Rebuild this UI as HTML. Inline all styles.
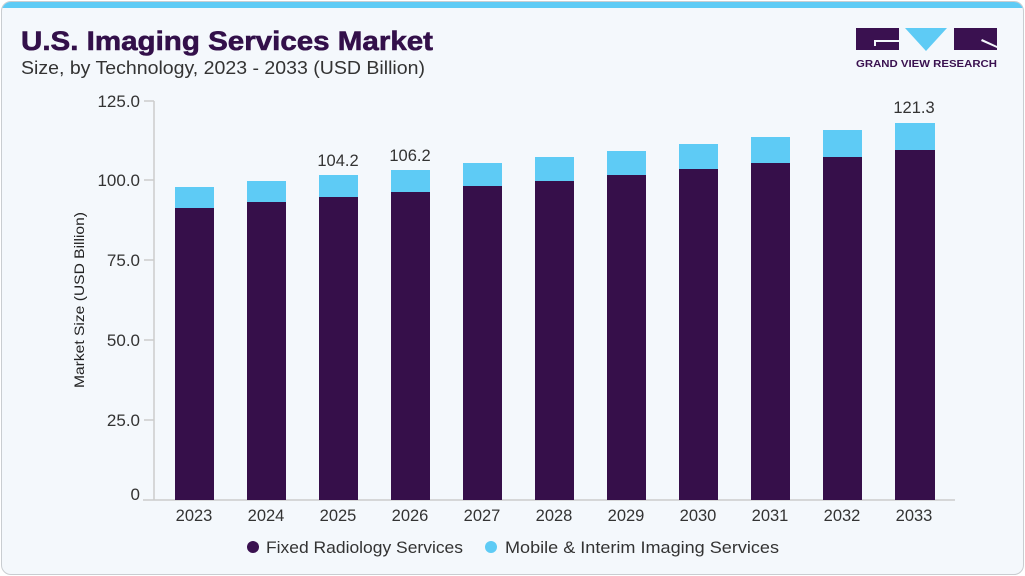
<!DOCTYPE html>
<html><head><meta charset="utf-8"><style>
html,body{margin:0;padding:0;background:#fff;}
body{width:1025px;height:576px;overflow:hidden;position:relative;font-family:"Liberation Sans",Arial,sans-serif;}
.card{position:absolute;left:1px;top:1px;width:1021px;height:572px;border:1px solid #c9cdd1;border-radius:10px;background:#f4f8fc;overflow:hidden;}
.bar{position:absolute;left:0;top:0;width:100%;height:6px;background:#5ecbf5;}
</style></head><body>
<div class="card"><div class="bar"></div></div>
<svg width="1025" height="576" style="position:absolute;left:0;top:0" xmlns="http://www.w3.org/2000/svg" font-family="Liberation Sans, Arial, sans-serif">
<text x="21" y="50" font-size="27" font-weight="bold" fill="#33104a" stroke="#33104a" stroke-width="0.6" textLength="412" lengthAdjust="spacingAndGlyphs">U.S. Imaging Services Market</text>
<text x="21" y="74" font-size="18" fill="#333" textLength="404" lengthAdjust="spacingAndGlyphs">Size, by Technology, 2023 - 2033 (USD Billion)</text>
<!-- logo -->
<rect x="856" y="28" width="43" height="22" fill="#3a1150"/>
<rect x="874" y="40" width="25" height="2" fill="#f4f8fc"/>
<rect x="874" y="40" width="2" height="6" fill="#f4f8fc"/>
<polygon points="905,28 947,28 926,51" fill="#5ecbf5"/>
<rect x="954" y="28" width="43" height="22" fill="#3a1150"/>
<polygon points="982,39 997,46 997,48 981,41" fill="#f4f8fc"/>
<text x="856" y="67" font-size="10.5" font-weight="bold" fill="#3a1150" textLength="141" lengthAdjust="spacingAndGlyphs">GRAND VIEW RESEARCH</text>
<!-- axes -->
<line x1="154" y1="101" x2="154" y2="500" stroke="#ccc" stroke-width="1.5"/>
<line x1="143" y1="500" x2="955" y2="500" stroke="#ccc" stroke-width="1.5"/>
<g stroke="#ccc" stroke-width="1.5">
<line x1="144" y1="101" x2="154" y2="101"/><line x1="144" y1="180" x2="154" y2="180"/><line x1="144" y1="260" x2="154" y2="260"/><line x1="144" y1="340" x2="154" y2="340"/><line x1="144" y1="420" x2="154" y2="420"/>
</g>
<g font-size="17" fill="#333" text-anchor="end">
<text x="140" y="107">125.0</text><text x="140" y="186">100.0</text><text x="140" y="266">75.0</text><text x="140" y="346">50.0</text><text x="140" y="426">25.0</text><text x="140" y="500">0</text>
</g>
<text transform="translate(84,300) rotate(-90)" x="-88" y="0" font-size="14" fill="#222" textLength="176" lengthAdjust="spacingAndGlyphs">Market Size (USD Billion)</text>
<text x="338" y="166" font-size="16.5" fill="#333" text-anchor="middle">104.2</text>
<text x="410" y="161" font-size="16.5" fill="#333" text-anchor="middle">106.2</text>
<text x="914" y="113" font-size="16.5" fill="#333" text-anchor="middle">121.3</text>
<circle cx="253" cy="547" r="6" fill="#3a1150"/>
<text x="266" y="553" font-size="17" fill="#333" textLength="197" lengthAdjust="spacingAndGlyphs">Fixed Radiology Services</text>
<circle cx="491" cy="547" r="6" fill="#5ecbf5"/>
<text x="505" y="553" font-size="17" fill="#333" textLength="274" lengthAdjust="spacingAndGlyphs">Mobile &amp; Interim Imaging Services</text>
<g>
<rect x="175" y="187" width="39" height="21" fill="#5ecbf5"/><rect x="175" y="208" width="39" height="292" fill="#360f4a"/>
<rect x="247" y="181" width="39" height="21" fill="#5ecbf5"/><rect x="247" y="202" width="39" height="298" fill="#360f4a"/>
<rect x="319" y="175" width="39" height="22" fill="#5ecbf5"/><rect x="319" y="197" width="39" height="303" fill="#360f4a"/>
<rect x="391" y="170" width="39" height="22" fill="#5ecbf5"/><rect x="391" y="192" width="39" height="308" fill="#360f4a"/>
<rect x="463" y="163" width="39" height="23" fill="#5ecbf5"/><rect x="463" y="186" width="39" height="314" fill="#360f4a"/>
<rect x="535" y="157" width="39" height="24" fill="#5ecbf5"/><rect x="535" y="181" width="39" height="319" fill="#360f4a"/>
<rect x="607" y="151" width="39" height="24" fill="#5ecbf5"/><rect x="607" y="175" width="39" height="325" fill="#360f4a"/>
<rect x="679" y="144" width="39" height="25" fill="#5ecbf5"/><rect x="679" y="169" width="39" height="331" fill="#360f4a"/>
<rect x="751" y="137" width="39" height="26" fill="#5ecbf5"/><rect x="751" y="163" width="39" height="337" fill="#360f4a"/>
<rect x="823" y="130" width="39" height="27" fill="#5ecbf5"/><rect x="823" y="157" width="39" height="343" fill="#360f4a"/>
<rect x="895" y="123" width="40" height="27" fill="#5ecbf5"/><rect x="895" y="150" width="40" height="350" fill="#360f4a"/>
</g>
<g font-size="16.5" fill="#333" text-anchor="middle">
<text x="194" y="521">2023</text><text x="266" y="521">2024</text><text x="338" y="521">2025</text><text x="410" y="521">2026</text><text x="482" y="521">2027</text><text x="554" y="521">2028</text><text x="626" y="521">2029</text><text x="698" y="521">2030</text><text x="770" y="521">2031</text><text x="842" y="521">2032</text><text x="914" y="521">2033</text>
</g>
</svg>
</body></html>
